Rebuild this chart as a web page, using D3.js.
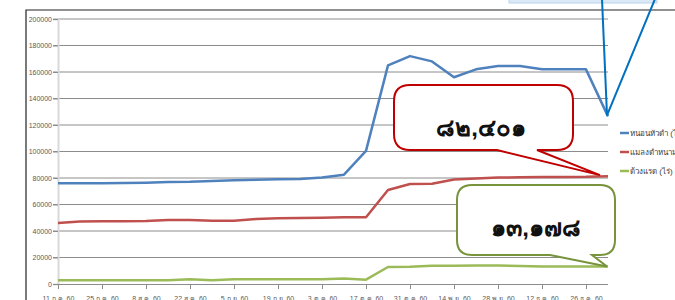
<!DOCTYPE html>
<html>
<head>
<meta charset="utf-8">
<script src="https://cdn.jsdelivr.net/npm/d3@7"></script>
<style>
  html, body { margin: 0; padding: 0; background: #fff; overflow: hidden; }
  svg { display: block; font-family: "Liberation Sans", "Noto Sans", "DejaVu Sans", sans-serif; }
</style>
</head>
<body>
<div id="chart"></div>
<script>
// weekly survey dates (Thai Buddhist-era labels)
const dates = [
  '11 ก.ค. 60', '18 ก.ค. 60', '25 ก.ค. 60', '1 ส.ค. 60', '8 ส.ค. 60', '15 ส.ค. 60',
  '22 ส.ค. 60', '29 ส.ค. 60', '5 ก.ย. 60', '12 ก.ย. 60', '19 ก.ย. 60', '26 ก.ย. 60',
  '3 ต.ค. 60', '10 ต.ค. 60', '17 ต.ค. 60', '24 ต.ค. 60', '31 ต.ค. 60', '7 พ.ย. 60',
  '14 พ.ย. 60', '21 พ.ย. 60', '28 พ.ย. 60', '5 ธ.ค. 60', '12 ธ.ค. 60', '19 ธ.ค. 60',
  '26 ธ.ค. 60', '2 ม.ค. 61'
];
const seriesNames = ['หนอนหัวดำ (ไร่)', 'แมลงดำหนาม (ไร่)', 'ด้วงแรด (ไร่)'];
const blackHead = [76000, 76000, 76000, 76200, 76500, 77000, 77200, 77800, 78300, 78600,
  79000, 79200, 80300, 82500, 100500, 165000, 172000, 168000, 156000, 162000,
  164500, 164500, 162000, 162000, 162000, 126500];
const hispine = [46000, 47200, 47300, 47400, 47600, 48300, 48300, 47700, 47700, 49000,
  49700, 49800, 50000, 50300, 50400, 71000, 75500, 75600, 78800, 79600,
  80300, 80600, 80700, 80800, 80900, 81400];
const rhino = [2800, 2800, 2800, 2800, 2800, 2900, 3600, 2800, 3500, 3500,
  3500, 3500, 3600, 4200, 3300, 12800, 13000, 13700, 13800, 13900,
  13900, 13500, 13200, 13200, 13200, 13178];
const yTicks = [0, 20000, 40000, 60000, 80000, 100000, 120000, 140000, 160000, 180000, 200000];
const calloutTexts = ['๘๒,๔๐๑', '๑๓,๑๗๘'];

const width = 675, height = 300;
const colors = ['#4f81bd', '#c0504d', '#9bbb59'];

const svg = d3.select('#chart').append('svg')
  .attr('width', width)
  .attr('height', height);

const x = d3.scalePoint().domain(dates).range([58, 608]);
const y = d3.scaleLinear().domain([0, 200000]).range([284, 19]);

// outer chart frame (top and left edges visible)
svg.append('path')
  .attr('d', 'M26,300 V10 H675')
  .attr('fill', 'none')
  .attr('stroke', '#222')
  .attr('stroke-width', 1.2);

// gridlines
svg.append('g')
  .selectAll('line')
  .data(yTicks.filter(d => d > 0))
  .join('line')
  .attr('x1', 53)
  .attr('x2', 608)
  .attr('y1', d => y(d))
  .attr('y2', d => y(d))
  .attr('stroke', '#8c8c8c')
  .attr('stroke-width', 1);

// y axis
const yAxis = svg.append('g')
  .attr('transform', 'translate(58,0)')
  .call(d3.axisLeft(y).tickValues(yTicks).tickSize(5).tickFormat(d3.format('d')));
yAxis.select('.domain').attr('stroke', '#d9d9d9').attr('stroke-width', 2);
yAxis.selectAll('.tick line').attr('stroke', '#8c8c8c');
yAxis.selectAll('.tick text')
  .attr('x', -6)
  .attr('fill', '#595959')
  .style('font-size', '7px');

// x axis (labels run off the bottom edge, as in the source)
const xAxis = svg.append('g')
  .attr('transform', 'translate(0,284)')
  .call(d3.axisBottom(x).tickValues(dates.filter((d, i) => i % 2 === 0)).tickSize(5).tickSizeOuter(0));
xAxis.select('.domain').attr('stroke', '#8c8c8c').attr('d', 'M58,0.5H608');
xAxis.selectAll('.tick line').attr('stroke', '#8c8c8c');
xAxis.selectAll('.tick text')
  .attr('y', 12)
  .attr('dy', '0.71em')
  .attr('fill', '#595959')
  .style('font-size', '7px');

// series lines
const line = d3.line()
  .x((d, i) => x(dates[i]))
  .y(d => y(d));

[blackHead, hispine, rhino].forEach((vals, k) => {
  svg.append('path')
    .datum(vals)
    .attr('fill', 'none')
    .attr('stroke', colors[k])
    .attr('stroke-width', 2.5)
    .attr('stroke-linejoin', 'round')
    .attr('d', line);
});

// legend
const legend = svg.append('g').attr('transform', 'translate(620,133)');
seriesNames.forEach((name, k) => {
  const g = legend.append('g').attr('transform', `translate(0,${k * 19})`);
  g.append('line')
    .attr('x1', 0).attr('x2', 9)
    .attr('stroke', colors[k])
    .attr('stroke-width', 2.5);
  g.append('text')
    .attr('x', 10)
    .attr('dy', '0.35em')
    .attr('fill', '#404040')
    .style('font-size', '8px')
    .text(name);
});

// rounded callout with a pointer from its bottom edge
function callout(box, tip, stroke) {
  const { x0, y0, x1, y1, r, p0, p1 } = box;
  const d = [
    `M${x0 + r},${y0}`, `H${x1 - r}`, `Q${x1},${y0} ${x1},${y0 + r}`,
    `V${y1 - r}`, `Q${x1},${y1} ${x1 - r},${y1}`,
    `H${p1}`, `L${tip[0]},${tip[1]}`, `L${p0},${y1}`,
    `H${x0 + r}`, `Q${x0},${y1} ${x0},${y1 - r}`,
    `V${y0 + r}`, `Q${x0},${y0} ${x0 + r},${y0}`, 'Z'
  ].join(' ');
  svg.append('path')
    .attr('d', d)
    .attr('fill', '#fff')
    .attr('stroke', stroke)
    .attr('stroke-width', 2);
}

const last = dates[dates.length - 1];

callout({ x0: 394, y0: 85, x1: 573, y1: 150, r: 16, p0: 497, p1: 537 },
  [x(last) - 8, y(hispine[hispine.length - 1]) - 1], '#c00000');
svg.append('text')
  .attr('x', 481).attr('y', 136)
  .attr('text-anchor', 'middle')
  .attr('fill', '#111')
  .style('font-size', '24px')
  .style('font-weight', 'bold')
  .text(calloutTexts[0]);

callout({ x0: 457, y0: 185, x1: 615, y1: 255, r: 15, p0: 550, p1: 592 },
  [x(last) - 1, y(rhino[rhino.length - 1])], '#77933c');
svg.append('text')
  .attr('x', 536).attr('y', 236)
  .attr('text-anchor', 'middle')
  .attr('fill', '#111')
  .style('font-size', '24px')
  .style('font-weight', 'bold')
  .text(calloutTexts[1]);

// blue callout (box above the visible area)
svg.append('rect')
  .attr('x', 509).attr('y', -40)
  .attr('width', 148).attr('height', 43)
  .attr('fill', '#dbe8f5')
  .attr('stroke', '#b8d3ee');
const blueTip = [x(last) - 1, y(blackHead[blackHead.length - 1]) - 1];
svg.append('path')
  .attr('d', `M602,-1 L${blueTip[0]},${blueTip[1]} L655,-1`)
  .attr('fill', 'none')
  .attr('stroke', '#0070c0')
  .attr('stroke-width', 2);
</script>
</body>
</html>
